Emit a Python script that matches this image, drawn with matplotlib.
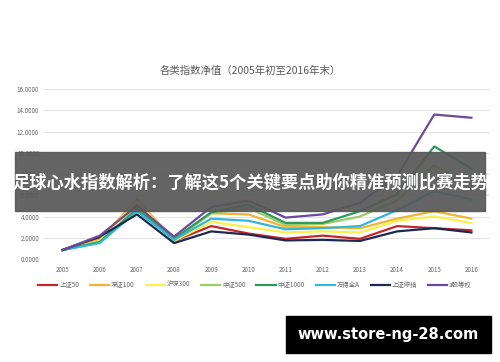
import matplotlib.pyplot as plt
import matplotlib.patches as patches

plt.rcParams['font.family'] = ['Noto Sans CJK SC', 'DejaVu Sans']

years = list(range(2005, 2017))

# net values
sz50   = [0.85, 2.0, 5.2, 1.7, 3.1, 2.4, 1.9, 2.2, 1.9, 3.1, 2.9, 2.7]
sz100  = [0.85, 1.8, 5.6, 1.8, 4.3, 4.2, 3.0, 3.0, 2.9, 3.8, 4.5, 3.8]
hs300  = [0.85, 1.7, 5.4, 1.7, 3.5, 3.0, 2.5, 2.6, 2.5, 3.6, 4.0, 3.4]
zz500  = [0.85, 1.6, 4.8, 1.8, 4.3, 4.8, 3.2, 3.3, 4.0, 5.5, 8.8, 7.0]
zz1000 = [0.85, 1.6, 4.7, 1.9, 4.4, 5.1, 3.4, 3.4, 4.5, 6.1, 10.6, 8.5]
wind_a = [0.85, 1.5, 4.5, 1.8, 3.8, 3.6, 2.8, 2.9, 3.1, 4.6, 6.4, 5.6]
szzz   = [0.85, 2.1, 4.2, 1.5, 2.6, 2.3, 1.75, 1.8, 1.7, 2.6, 2.9, 2.5]
a_eq   = [0.85, 2.2, 5.0, 2.1, 4.9, 5.5, 3.9, 4.2, 5.3, 7.8, 13.6, 13.3]

names = ['上证50', '深证100', '沪深300', '中证500', '中证1000', '万得全A', '上证综指', 'a股等权']
series = [sz50, sz100, hs300, zz500, zz1000, wind_a, szzz, a_eq]
colors = ['#C4262E', '#F1B535', '#FBEF4A', '#9DCB6A', '#2C9B5C', '#34B7D6', '#1C2A4F', '#6B4A9B']

fig = plt.figure(figsize=(5, 3.62), dpi=100)
ax = fig.add_axes([0.088, 0.2845, 0.892, 0.4695])

for vals, name, c in zip(series, names, colors):
    ax.plot(years, vals, color=c, lw=1.6, label=name)

ax.set_xlim(2004.5, 2016.5)
ax.set_ylim(0, 16)
ax.set_xticks(years)
ax.set_yticks(range(0, 17, 2))
ax.set_yticklabels(['%.4f' % v for v in range(0, 17, 2)])
ax.tick_params(axis='both', length=0, labelsize=4.5, colors='#666666')
ax.tick_params(axis='x', pad=5)
ax.grid(axis='y', color='#e3e3e3', lw=0.8)
ax.set_axisbelow(True)
for s in ax.spines.values():
    s.set_visible(False)

fig.text(0.5, 0.805, '各类指数净值（2005年初至2016年末）', ha='center', va='center',
         fontsize=7.5, color='#595959')

fig.legend(loc='center', bbox_to_anchor=(0.51, 0.213), ncol=8, frameon=False,
           fontsize=4.6, handlelength=3, columnspacing=1.7, handletextpad=0.3,
           labelcolor='#666666')

# overlay banner
fig.patches.append(patches.Rectangle((15 / 500, 1 - 211 / 362), 470 / 500, 59 / 362,
                                     transform=fig.transFigure, color='#585858', alpha=0.93,
                                     zorder=5))
fig.text(0.5, 1 - 183 / 362, '足球心水指数解析：了解这5个关键要点助你精准预测比赛走势',
         ha='center', va='center', fontsize=12.4, fontweight='bold', color='white', zorder=6)

# site label box
fig.patches.append(patches.Rectangle((286 / 500, 1 - 353 / 362), 205 / 500, 37 / 362,
                                     transform=fig.transFigure, color='black', zorder=5))
fig.text(388.5 / 500, 1 - 334.5 / 362, 'www.store-ng-28.com', ha='center', va='center',
         fontsize=10.5, fontweight='bold', color='white', family='DejaVu Sans', zorder=6)

fig.savefig('out.png', dpi=100)
